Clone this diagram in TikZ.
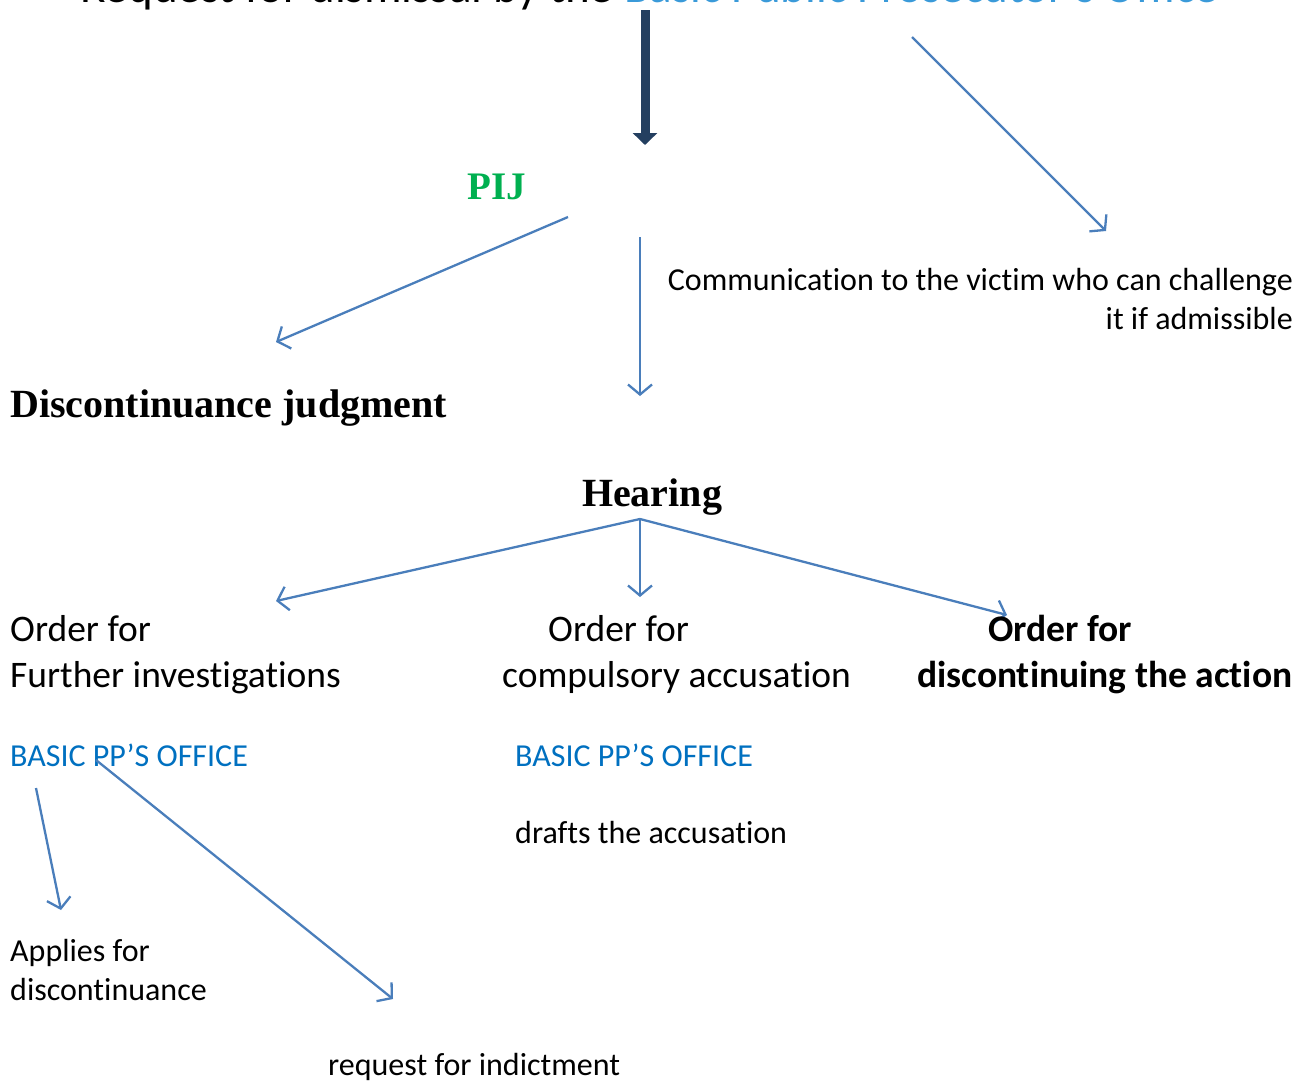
\documentclass[tikz,border=0pt]{standalone}
\usepackage{fontspec}
\setmainfont{Carlito}[Ligatures=NoCommon]
\newfontfamily\hdfont{Liberation Serif}
\usetikzlibrary{arrows.meta}
\definecolor{arrowblue}{HTML}{4A7EBB}
\definecolor{navy}{HTML}{243F60}
\definecolor{pijgreen}{HTML}{00B050}
\definecolor{officeblue}{HTML}{0070C0}
\definecolor{topblue}{HTML}{3A9AD9}
\tikzset{
  conn/.style={draw=arrowblue, line width=2.3pt, -{Straight Barb[length=10pt,width=24pt,line width=2.3pt]}},
  body/.style={inner sep=0pt, font=\fontsize{32}{39}\selectfont},
  big/.style={inner sep=0pt, font=\fontsize{37.5}{46}\selectfont},
  bigbold/.style={inner sep=0pt, font=\bfseries\fontsize{37.5}{46}\selectfont},
  head/.style={inner sep=0pt, font=\hdfont\bfseries\fontsize{40}{48}\selectfont},
}
\begin{document}
\begin{tikzpicture}[x=1pt,y=-1pt]
\useasboundingbox (0,0) rectangle (1306,1082);
\clip (0,0) rectangle (1306,1082);
% clipped top title
\node[inner sep=0pt, anchor=base west, font=\fontsize{47}{56}\selectfont] (title) at (80,2)
  {Request for dismissal by the \textcolor{topblue}{Basic Public Prosecutor's Office}};
% thick arrow
\coordinate (t1) at (645,10);
\coordinate (t2) at (645,145);
\draw[navy, line width=9pt, -{Triangle[length=12pt,width=24pt]}] (t1) -- (t2);
% PIJ
\node[inner sep=0pt, text=pijgreen, anchor=base, font=\hdfont\bfseries\fontsize{39}{46}\selectfont] (pij) at (497,199) {PIJ};
% communication
\node[body, anchor=base east] (comm1) at (1293,290) {Communication to the victim who can challenge};
\node[body, anchor=base east] (comm2) at (1293,329) {it if admissible};
\coordinate (a1s) at (912,37); \coordinate (a1e) at (1106,231);
\draw[conn] (a1s) -- (a1e);
\coordinate (a2s) at (568,217); \coordinate (a2e) at (276,342);
\draw[conn] (a2s) -- (a2e);
\coordinate (a3s) at (640,237); \coordinate (a3e) at (640,396);
\draw[conn] (a3s) -- (a3e);
% discontinuance judgment
\node[head, anchor=base west] (dj) at (10,417) {Discontinuance judgment};
% Hearing
\node[head, anchor=base] (hear) at (652,506) {Hearing};
\coordinate (hs) at (640,519);
\coordinate (h1) at (276,601);
\coordinate (h2) at (640,597);
\coordinate (h3) at (1007,615);
\draw[conn] (hs) -- (h1);
\draw[conn] (hs) -- (h2);
\draw[conn] (hs) -- (h3);
% orders
\node[big, anchor=base west] (o1a) at (10,641) {Order for};
\node[big, anchor=base west] (o1b) at (10,687) {Further investigations};
\node[big, anchor=base west] (o2a) at (548,641) {Order for};
\node[big, anchor=base west] (o2b) at (502,687) {compulsory accusation};
\node[bigbold, anchor=base west] (o3a) at (988,641) {Order for};
\node[bigbold, anchor=base west] (o3b) at (917,687) {discontinuing the action};
% offices
\node[body, text=officeblue, anchor=base west] (off1) at (10,766) {BASIC PP’S OFFICE};
\node[body, text=officeblue, anchor=base west] (off2) at (515,766) {BASIC PP’S OFFICE};
\node[body, anchor=base west] (draft) at (515,843) {drafts the accusation};
\coordinate (b1s) at (36,788); \coordinate (b1e) at (61,910);
\draw[conn] (b1s) -- (b1e);
\coordinate (b2s) at (96,760); \coordinate (b2e) at (393,999);
\draw[conn] (b2s) -- (b2e);
\node[body, anchor=base west] (ap1) at (10,961) {Applies for};
\node[body, anchor=base west] (ap2) at (10,1000) {discontinuance};
\node[body, anchor=base west] (req) at (328,1075) {request for indictment};
\end{tikzpicture}
\end{document}
